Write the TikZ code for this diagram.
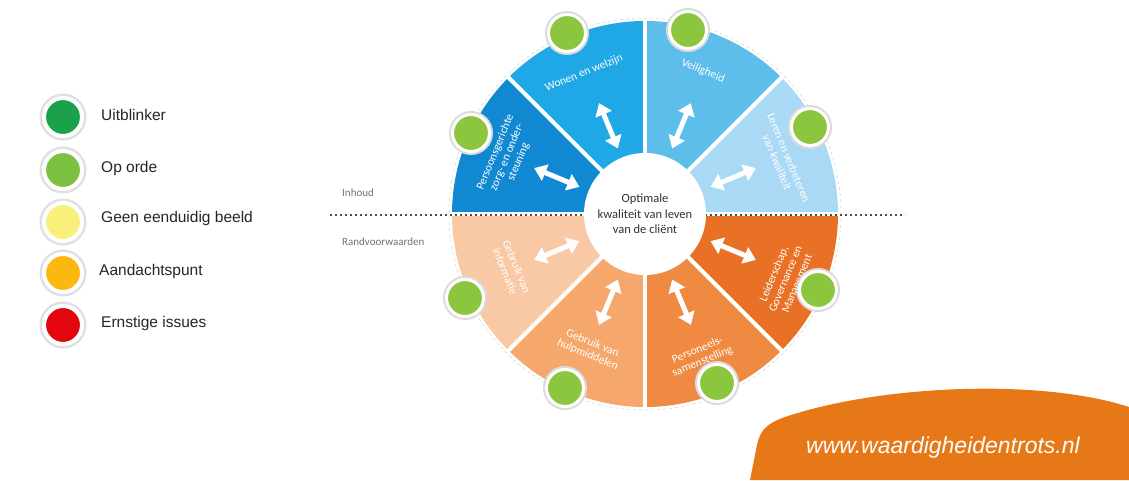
\documentclass[tikz,border=0pt]{standalone}
\usepackage{fontspec}
\setmainfont{Carlito}
\newfontfamily\arialf{Liberation Sans}
\usetikzlibrary{arrows.meta,calc}
\definecolor{cLeren}{HTML}{A9D9F4}
\definecolor{cVeil}{HTML}{5DBDEB}
\definecolor{cWonen}{HTML}{1FA7E6}
\definecolor{cPers}{HTML}{1189D2}
\definecolor{cInfo}{HTML}{F9C8A4}
\definecolor{cHulp}{HTML}{F5A76C}
\definecolor{cPersl}{HTML}{F08A42}
\definecolor{cLeid}{HTML}{E97125}
\definecolor{dotgreen}{HTML}{8CC63F}
\definecolor{lUit}{HTML}{1AA24A}
\definecolor{lOp}{HTML}{7DC143}
\definecolor{lGeen}{HTML}{F8F07A}
\definecolor{lAand}{HTML}{FBB80F}
\definecolor{lErn}{HTML}{E3060F}
\definecolor{blob}{HTML}{E67817}
\definecolor{txtgray}{HTML}{333333}
\begin{document}
\begin{tikzpicture}[x=1pt,y=1pt,
  statusdot/.style={circle, draw=white, line width=3pt, minimum size=37pt, inner sep=0pt,
    preaction={draw=black!14, line width=7pt}},
  legenddot/.style={circle, draw=white, line width=4pt, minimum size=38pt, inner sep=0pt,
    preaction={draw=black!12, line width=9pt}},
  legendlabel/.style={anchor=west, font=\arialf\fontsize{15.5}{18}\selectfont, text=black!85, inner sep=0pt},
  seglabel/.style={text=white, align=center, font=\fontsize{11.5}{12.5}\selectfont, inner sep=0pt},
  dblarrow/.style={white, line width=5pt, {Triangle[width=17pt,length=12pt]}-{Triangle[width=17pt,length=12pt]}},
  sidelabel/.style={anchor=west, text=black!55, font=\fontsize{11}{13}\selectfont, inner sep=0pt}
]
\useasboundingbox (0,0) rectangle (1129,480);
\fill[white] (0,0) rectangle (1129,480);

% wheel
\coordinate (C) at (645,266);
\foreach \a/\col in {0/cLeren,45/cVeil,90/cWonen,135/cPers,180/cInfo,225/cHulp,270/cPersl,315/cLeid}
  \fill[\col] (C) -- ++(\a:193pt) arc[start angle=\a, end angle=\a+45, radius=193pt] -- cycle;
\draw[black!18, dashed, line width=0.5pt] (C) circle[radius=196pt];
\foreach \a in {0,45,...,315}
  \draw[white, line width=4pt] (C) -- ++(\a:195pt);

% dotted separator
\coordinate (sepL) at (330,265);
\coordinate (sepR) at (905,265);
\draw[black!70, line width=1.7pt, dash pattern=on 1.7pt off 3.3pt] (sepL) -- (sepR);

% centre
\node[circle, fill=white, minimum size=122pt, inner sep=0pt, align=center,
      text=txtgray, font=\fontsize{12.5}{15.5}\selectfont] (centre) at (C)
  {Optimale\\kwaliteit van leven\\van de cli\"ent};

% arrows
\foreach \a [count=\i] in {22.5,67.5,112.5,157.5,202.5,247.5,292.5,337.5}{
  \coordinate (ai\i) at ($(C)+(\a:71pt)$);
  \coordinate (ao\i) at ($(C)+(\a:120pt)$);
  \draw[dblarrow] (ai\i) -- (ao\i);
}

% segment labels
\node[seglabel, rotate=-67.5] (tLeren) at (783,320) {Leren en verbeteren\\van kwaliteit};
\node[seglabel, rotate=-22.5] (tVeil) at (703,409) {Veiligheid};
\node[seglabel, rotate=22.5] (tWonen) at (584,407) {Wonen en welzijn};
\node[seglabel, rotate=67.5] (tPers) at (507,323) {Persoonsgerichte\\zorg- en onder-\\steuning};
\node[seglabel, rotate=-67.5] (tInfo) at (511,211) {Gebruik van\\informatie};
\node[seglabel, rotate=-22.5] (tHulp) at (590,131) {Gebruik van\\hulpmiddelen};
\node[seglabel, rotate=22.5] (tPersl) at (700,124) {Personeels-\\samenstelling};
\node[seglabel, rotate=67.5] (tLeid) at (786,201) {Leiderschap,\\Governance en\\Management};

% status dots
\node[statusdot, fill=dotgreen] (dWonen) at (567,447) {};
\node[statusdot, fill=dotgreen] (dPers) at (471,347) {};
\node[statusdot, fill=dotgreen] (dVeil) at (688,450) {};
\node[statusdot, fill=dotgreen] (dLeren) at (810,353) {};
\node[statusdot, fill=dotgreen] (dInfo) at (465,182) {};
\node[statusdot, fill=dotgreen] (dHulp) at (565,92) {};
\node[statusdot, fill=dotgreen] (dPersl) at (717,97) {};
\node[statusdot, fill=dotgreen] (dLeid) at (818,190) {};

% side labels
\node[sidelabel] (inh) at (342,287) {Inhoud};
\node[sidelabel] (rand) at (342,238) {Randvoorwaarden};

% legend
\node[legenddot, fill=lUit] (l1) at (63,363) {};
\node[legenddot, fill=lOp] (l2) at (63,310) {};
\node[legenddot, fill=lGeen] (l3) at (63,258) {};
\node[legenddot, fill=lAand] (l4) at (63,207) {};
\node[legenddot, fill=lErn] (l5) at (63,155) {};
\node[legendlabel] (t1) at (101,365) {Uitblinker};
\node[legendlabel] (t2) at (101,312) {Op orde};
\node[legendlabel] (t3) at (101,262) {Geen eenduidig beeld};
\node[legendlabel] (t4) at (99,209) {Aandachtspunt};
\node[legendlabel] (t5) at (101,157) {Ernstige issues};

% orange blob with url
\fill[blob] (750,0) -- (756,30) .. controls (759,46) and (762,55) .. (785,63)
  .. controls (880,95) and (1040,102) .. (1129,73) -- (1129,0) -- cycle;
\node[text=white, font=\arialf\itshape\fontsize{23}{26}\selectfont, inner sep=0pt] (url) at (943,32) {www.waardigheidentrots.nl};
\end{tikzpicture}
\end{document}
